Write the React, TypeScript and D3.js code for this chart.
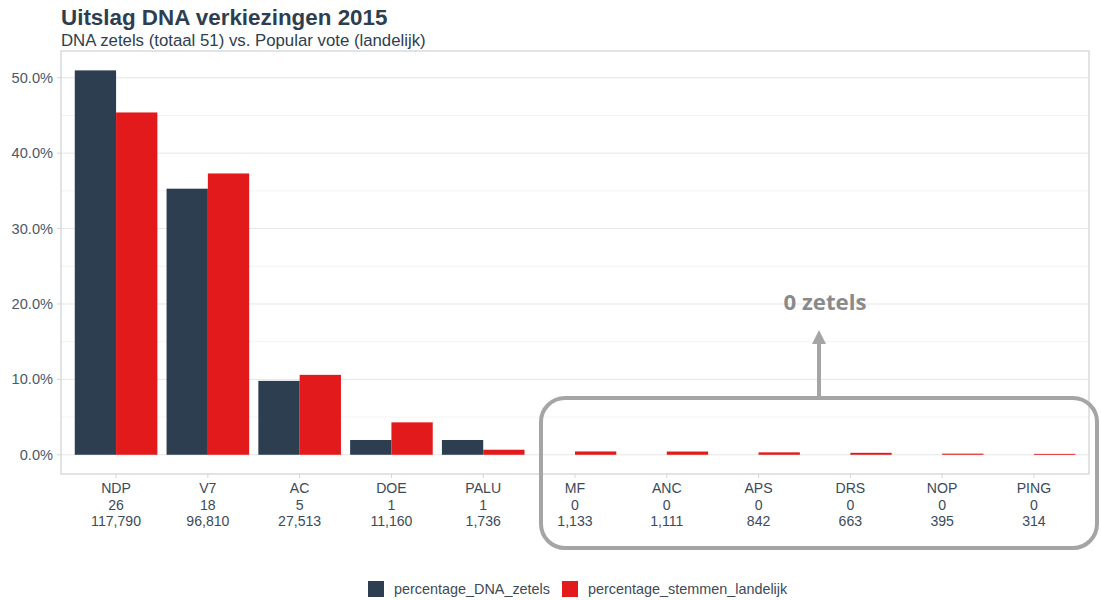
import React from "react";
import * as d3 from "d3";

const parties = ["NDP", "V7", "AC", "DOE", "PALU", "MF", "ANC", "APS", "DRS", "NOP", "PING"];
const seats = [26, 18, 5, 1, 1, 0, 0, 0, 0, 0, 0];
const votes = [117790, 96810, 27513, 11160, 1736, 1133, 1111, 842, 663, 395, 314];
const pctSeats = [50.98, 35.29, 9.8, 1.96, 1.96, 0, 0, 0, 0, 0, 0];
const pctVotes = [45.4, 37.31, 10.6, 4.3, 0.67, 0.44, 0.43, 0.32, 0.26, 0.15, 0.12];
const seriesNames = ["percentage_DNA_zetels", "percentage_stemmen_landelijk"];
const seriesColors = ["#2d3e50", "#e31a1c"];
const majorTicks = [0, 10, 20, 30, 40, 50];
const minorTicks = [5, 15, 25, 35, 45];

const W = 1101;
const H = 600;
const panel = { left: 61, right: 1089, top: 51, bottom: 474 };
const font = "'Liberation Sans', Arial, sans-serif";

export default function App() {
  const y = d3.scaleLinear().domain([-2.55, 53.55]).range([panel.bottom, panel.top]);
  // ggplot discrete expansion 0.6 units each side
  const step = (panel.right - panel.left) / (parties.length - 1 + 1.2);
  const cx = (i: number) => panel.left + step * (0.6 + i);
  const barW = step * 0.45;
  const fmt = d3.format(",");
  const pctFmt = (v: number) => v.toFixed(1) + "%";

  const boxX = 541, boxY = 398, boxW = 556, boxH = 150;
  const arrowX = 819;

  return (
    <svg width={W} height={H} style={{ display: "block", position: "absolute", left: 0, top: 0 }}>
      <rect x={0} y={0} width={W} height={H} fill="#ffffff" />
      <text x={61} y={25} fontFamily={font} fontSize={22.4} fontWeight="bold" fill="#2d3e50">
        Uitslag DNA verkiezingen 2015
      </text>
      <text x={61} y={46} fontFamily={font} fontSize={16.8} fill="#2d3e50">
        DNA zetels (totaal 51) vs. Popular vote (landelijk)
      </text>

      {minorTicks.map((t) => (
        <line key={"mi" + t} x1={panel.left} x2={panel.right} y1={y(t)} y2={y(t)} stroke="#f0f0f0" strokeWidth={0.8} />
      ))}
      {majorTicks.map((t) => (
        <line key={"ma" + t} x1={panel.left} x2={panel.right} y1={y(t)} y2={y(t)} stroke="#e6e6e6" strokeWidth={1} />
      ))}
      <rect
        x={panel.left}
        y={panel.top}
        width={panel.right - panel.left}
        height={panel.bottom - panel.top}
        fill="none"
        stroke="#d2d6db"
        strokeWidth={1.3}
      />

      {majorTicks.map((t) => (
        <g key={"yt" + t}>
          <line x1={panel.left - 4} x2={panel.left} y1={y(t)} y2={y(t)} stroke="#d2d6db" />
          <text x={panel.left - 8} y={y(t)} dy="0.35em" textAnchor="end" fontFamily={font} fontSize={14.6} fill="#4a5868">
            {pctFmt(t)}
          </text>
        </g>
      ))}

      {parties.map((p, i) => (
        <g key={p}>
          <rect
            x={cx(i) - barW}
            y={y(pctSeats[i])}
            width={barW}
            height={Math.max(0, y(0) - y(pctSeats[i]))}
            fill={seriesColors[0]}
          />
          <rect
            x={cx(i)}
            y={y(pctVotes[i])}
            width={barW}
            height={Math.max(0, y(0) - y(pctVotes[i]))}
            fill={seriesColors[1]}
          />
          <line x1={cx(i)} x2={cx(i)} y1={panel.bottom} y2={panel.bottom + 4} stroke="#d2d6db" />
          <text textAnchor="middle" fontFamily={font} fontSize={14.1} fill="#3c4a5a">
            <tspan x={cx(i)} y={493}>{p}</tspan>
            <tspan x={cx(i)} y={509.5}>{seats[i]}</tspan>
            <tspan x={cx(i)} y={526}>{fmt(votes[i])}</tspan>
          </text>
        </g>
      ))}

      {/* annotation */}
      <rect x={boxX} y={boxY} width={boxW} height={boxH} rx={24} ry={24} fill="none" stroke="#a5a5a5" strokeWidth={4} />
      <line x1={arrowX} x2={arrowX} y1={boxY - 2} y2={342} stroke="#a5a5a5" strokeWidth={4} />
      <path d={`M${arrowX - 7},${344} L${arrowX + 7},${344} L${arrowX},${330} Z`} fill="#a5a5a5" />
      <text x={825} y={310} textAnchor="middle" fontFamily="'Open Sans', sans-serif" fontWeight="bold" fontSize={22.2} fill="#8a8a8a">
        0 zetels
      </text>

      {/* legend */}
      {seriesNames.map((s, i) => {
        const lx = i === 0 ? 368 : 562;
        return (
          <g key={s}>
            <rect x={lx} y={581} width={16} height={16} fill={seriesColors[i]} />
            <text x={lx + 26} y={589} dy="0.35em" fontFamily={font} fontSize={14.4} fill="#3c4a5a">
              {s}
            </text>
          </g>
        );
      })}
    </svg>
  );
}
